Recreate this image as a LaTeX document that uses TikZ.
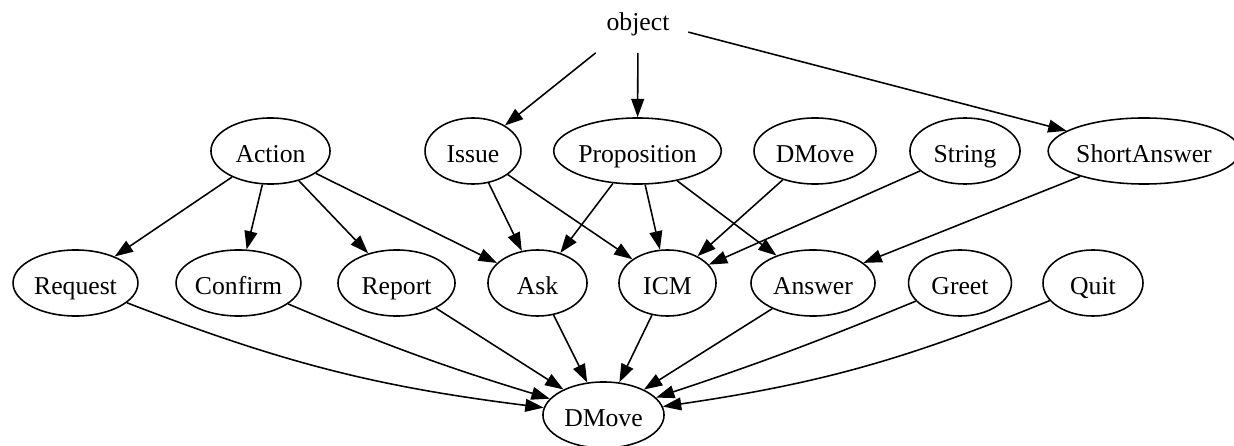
\documentclass[tikz,border=0pt]{standalone}
\usepackage{fontspec}
\setmainfont{Liberation Serif}
\usetikzlibrary{arrows.meta, shapes.geometric}

\begin{document}
\begin{tikzpicture}[x=0.545pt, y=-0.545pt, >={Triangle[length=10pt, width=7pt]},
	line width=0.85pt, font=\fontsize{14}{16}\selectfont,
	cls/.style={ellipse, draw, minimum height=36pt, inner sep=0pt, text height=12pt, text depth=0pt},
	root/.style={rectangle, minimum width=54pt, minimum height=36pt, inner sep=0pt, text height=12pt, text depth=0pt}]
	\useasboundingbox (0,0) rectangle (1234,446);
	
	% ===== top: root of the hierarchy =====
	\node[root] (object) at (638,19) {object};
	
	% ===== first row of classes =====
	\node[cls, minimum width=64.9pt] (action)   at (270.5,151) {Action};
	\node[cls, minimum width=52.3pt] (issue)    at (473,151)   {Issue};
	\node[cls, minimum width=86.7pt] (prop)     at (637.5,151) {Proposition};
	\node[cls, minimum width=66.5pt] (dmovetop) at (815,151)   {DMove};
	\node[cls, minimum width=60pt]   (string)   at (965,151)   {String};
	\node[cls, minimum width=97pt]   (shortans) at (1144,151)  {ShortAnswer};
	
	% ===== second row: dialogue moves =====
	\node[cls, minimum width=68.1pt] (request) at (75.5,283)  {Request};
	\node[cls, minimum width=68.1pt] (confirm) at (238.5,283) {Confirm};
	\node[cls, minimum width=63.8pt] (report)  at (396.5,283) {Report};
	\node[cls, minimum width=54pt]   (ask)     at (537.5,283) {Ask};
	\node[cls, minimum width=52.9pt] (icm)     at (667.5,283) {ICM};
	\node[cls, minimum width=67.6pt] (answer)  at (813,283)   {Answer};
	\node[cls, minimum width=56.1pt] (greet)   at (960,283)   {Greet};
	\node[cls, minimum width=54.5pt] (quit)    at (1093,283)  {Quit};
	
	% ===== bottom: common superclass =====
	\node[cls, minimum width=66pt] (dmove) at (603.5,415) {DMove};
	
	% edges from object
	\foreach \t in {issue, prop, shortans}
		\draw[->] (object) -- (\t);
	
	% edges between the two rows
	\foreach \s/\t in {action/request, action/confirm, action/report, action/ask,
		issue/ask, issue/icm, prop/ask, prop/icm, prop/answer,
		dmovetop/icm, string/icm, shortans/answer}
		\draw[->] (\s) -- (\t);
	
	% every move ends in DMove
	\draw[->] (request) to[bend right=7] (dmove);
	\draw[->] (confirm) to[bend right=3] (dmove);
	\foreach \s in {report, ask, icm, answer}
		\draw[->] (\s) -- (dmove);
	\draw[->] (greet) to[bend left=2] (dmove);
	\draw[->] (quit) to[bend left=7] (dmove);
	
\end{tikzpicture}
\end{document}
